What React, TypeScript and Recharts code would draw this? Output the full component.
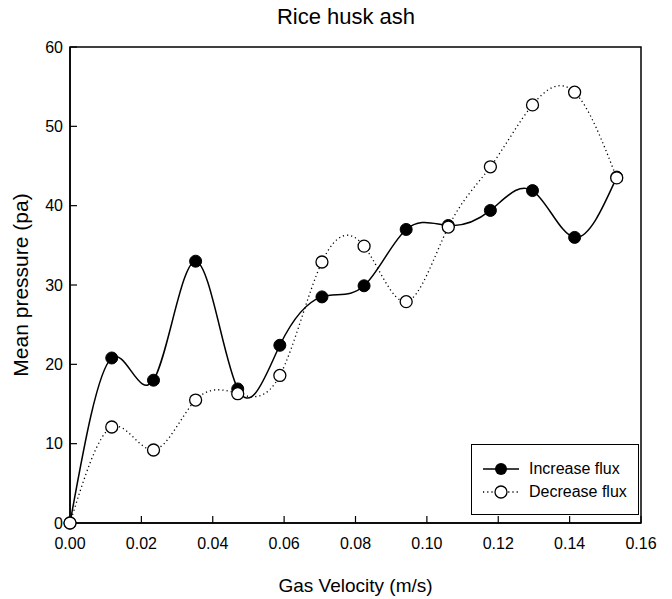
import { LineChart, Line, XAxis, YAxis, ReferenceArea, Label } from 'recharts';

const velocity = [0, 0.0117, 0.0234, 0.0352, 0.0470, 0.0588, 0.0706, 0.0824, 0.0942, 0.1060, 0.1178, 0.1296, 0.1414, 0.1532];
const increaseFlux = [0, 20.8, 18.0, 33.0, 16.9, 22.4, 28.5, 29.9, 37.0, 37.5, 39.4, 41.9, 36.0, 43.6];
const decreaseFlux = [0, 12.1, 9.2, 15.5, 16.3, 18.6, 32.9, 34.9, 27.9, 37.3, 44.9, 52.7, 54.3, 43.5];
const xTicks = [0, 0.02, 0.04, 0.06, 0.08, 0.1, 0.12, 0.14, 0.16];
const yTicks = [0, 10, 20, 30, 40, 50, 60];

const data = velocity.map((v, i) => ({ v, inc: increaseFlux[i], dec: decreaseFlux[i] }));

const FONT = '"Liberation Sans", Arial, sans-serif';

function LegendBox() {
  const row = { display: 'flex', alignItems: 'center', height: 22.5, whiteSpace: 'nowrap' } as const;
  return (
    <div
      style={{
        position: 'absolute',
        left: 471,
        top: 444,
        border: '1.5px solid #000',
        background: '#fff',
        width: 168,
        height: 71,
        boxSizing: 'border-box',
        padding: '13px 0 0 10px',
        fontFamily: FONT,
        fontSize: 16,
        color: '#000',
      }}
    >
      <div style={row}>
        <svg width={38} height={16}>
          <line x1={1} y1={8} x2={37} y2={8} stroke="#000" strokeWidth={1.5} />
          <circle cx={19} cy={8} r={6} fill="#000" />
        </svg>
        <span style={{ marginLeft: 9 }}>Increase flux</span>
      </div>
      <div style={row}>
        <svg width={38} height={16}>
          <line x1={1} y1={8} x2={37} y2={8} stroke="#000" strokeWidth={1.3} strokeDasharray="1.2 3" />
          <circle cx={19} cy={8} r={6} fill="#fff" stroke="#000" strokeWidth={1.3} />
        </svg>
        <span style={{ marginLeft: 9 }}>Decrease flux</span>
      </div>
    </div>
  );
}

export default function App() {
  return (
    <div style={{ position: 'absolute', left: 0, top: 0, width: 672, height: 599, background: '#fff' }}>
      <div
        style={{
          position: 'absolute',
          left: 246,
          width: 200,
          top: 4,
          textAlign: 'center',
          fontFamily: FONT,
          fontSize: 22,
          color: '#000',
        }}
      >
        Rice husk ash
      </div>
      <LineChart width={672} height={599} data={data} margin={{ top: 47, right: 31, bottom: 7, left: 0 }}>
        <ReferenceArea x1={0} x2={0.16} y1={0} y2={60} fill="none" stroke="#000" strokeWidth={1.5} ifOverflow="visible" />
        <XAxis
          type="number"
          dataKey="v"
          domain={[0, 0.16]}
          ticks={xTicks}
          tickFormatter={(t: number) => t.toFixed(2)}
          height={69}
          tickSize={-7}
          tickMargin={22}
          axisLine={{ stroke: '#000', strokeWidth: 1.5 }}
          tickLine={{ stroke: '#000', strokeWidth: 1.2 }}
          tick={{ fill: '#000', fontSize: 16, fontFamily: FONT }}
        >
          <Label value="Gas Velocity (m/s)" position="insideBottom" offset={0} style={{ fill: '#000', fontSize: 19, fontFamily: FONT }} />
        </XAxis>
        <YAxis
          type="number"
          domain={[0, 60]}
          ticks={yTicks}
          width={70}
          tickSize={-7}
          tickMargin={14}
          axisLine={{ stroke: '#000', strokeWidth: 1.5 }}
          tickLine={{ stroke: '#000', strokeWidth: 1.2 }}
          tick={{ fill: '#000', fontSize: 16, fontFamily: FONT }}
        >
          <Label
            value="Mean pressure (pa)"
            angle={-90}
            position="insideLeft"
            offset={21}
            style={{ textAnchor: 'middle', fill: '#000', fontSize: 21, fontFamily: FONT }}
          />
        </YAxis>
        <Line
          type="natural"
          dataKey="inc"
          stroke="#000"
          strokeWidth={1.5}
          dot={{ r: 6, fill: '#000', stroke: '#000', strokeWidth: 1 }}
          activeDot={false}
          isAnimationActive={false}
        />
        <Line
          type="natural"
          dataKey="dec"
          stroke="#000"
          strokeWidth={1.3}
          strokeDasharray="1.2 3"
          dot={{ r: 6, fill: '#fff', stroke: '#000', strokeWidth: 1.3, strokeDasharray: '0' }}
          activeDot={false}
          isAnimationActive={false}
        />
      </LineChart>
      <LegendBox />
    </div>
  );
}
